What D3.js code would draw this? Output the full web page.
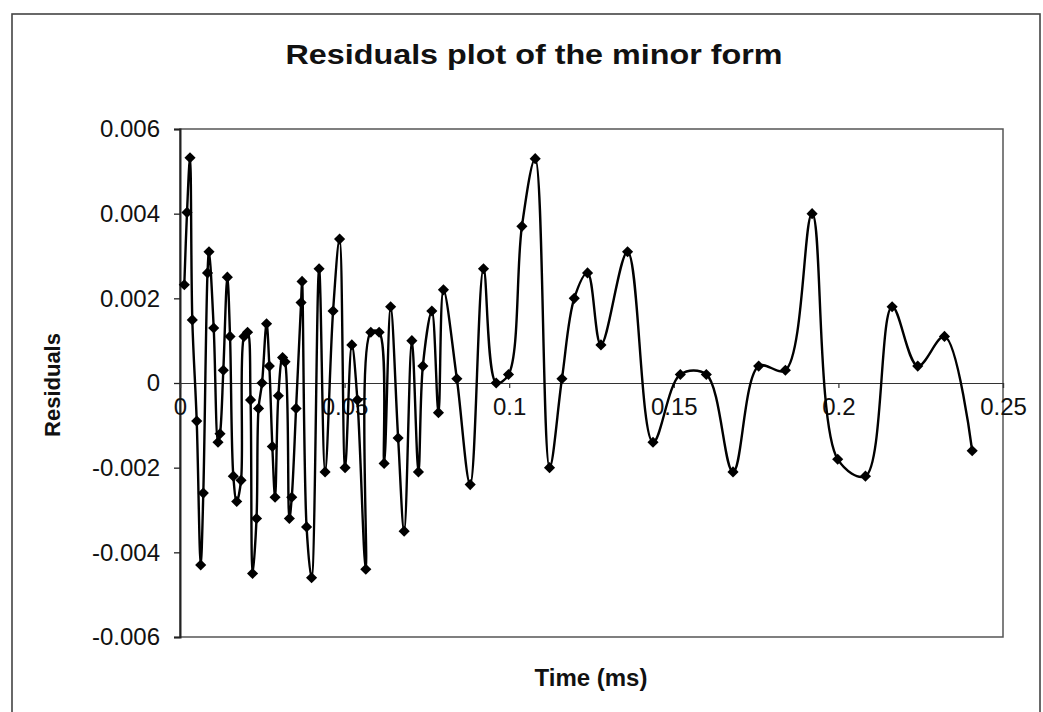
<!DOCTYPE html>
<html>
<head>
<meta charset="utf-8">
<script src="https://cdn.jsdelivr.net/npm/d3@7"></script>
<style>
  html, body { margin: 0; padding: 0; background: #fff; }
  svg { display: block; }
  text { font-family: "Liberation Sans", Arial, sans-serif; fill: #111; }
</style>
</head>
<body>
<svg id="chart" width="1043" height="712"></svg>
<script>
// ---- data ----
const titleText = "Residuals plot of the minor form";
const xLabel = "Time (ms)";
const yLabel = "Residuals";

const times = [
  0.00131, 0.00213, 0.00304, 0.00374, 0.00508, 0.00629, 0.00708, 0.00836, 0.00881, 0.01024,
  0.01155, 0.01216, 0.01316, 0.01438, 0.01520, 0.01620, 0.01723, 0.01854, 0.01945, 0.02052,
  0.02143, 0.02204, 0.02325, 0.02386, 0.02492, 0.02629, 0.02714, 0.02805, 0.02888, 0.02988,
  0.03116, 0.03191, 0.03322, 0.03395, 0.03526, 0.03678, 0.03708, 0.03845, 0.03997, 0.04225,
  0.04407, 0.04650, 0.04848, 0.05015, 0.05219, 0.05389, 0.05644, 0.05796, 0.06049, 0.06201,
  0.06398, 0.06626, 0.06809, 0.07043, 0.07243, 0.07377, 0.07650, 0.07851, 0.08003, 0.08410,
  0.08815, 0.09219, 0.09605, 0.09979, 0.10386, 0.10790, 0.11225, 0.11602, 0.11976, 0.12380,
  0.12787, 0.13596, 0.14368, 0.15198, 0.15988, 0.16799, 0.17578, 0.18389, 0.19201, 0.19979,
  0.20821, 0.21632, 0.22410, 0.23222, 0.24064
];
const residuals = [
  0.00232, 0.00403, 0.00532, 0.00149, -0.00090, -0.00430, -0.00260, 0.00260, 0.00310, 0.00130,
  -0.00140, -0.00120, 0.00030, 0.00250, 0.00110, -0.00220, -0.00280, -0.00230, 0.00110, 0.00120,
  -0.00040, -0.00450, -0.00320, -0.00060, 0.00000, 0.00140, 0.00040, -0.00150, -0.00270, -0.00030,
  0.00060, 0.00050, -0.00320, -0.00270, -0.00060, 0.00190, 0.00240, -0.00340, -0.00460, 0.00270,
  -0.00210, 0.00170, 0.00340, -0.00200, 0.00090, -0.00040, -0.00440, 0.00120, 0.00120, -0.00190,
  0.00180, -0.00130, -0.00350, 0.00100, -0.00210, 0.00040, 0.00170, -0.00070, 0.00220, 0.00010,
  -0.00240, 0.00270, 0.00000, 0.00020, 0.00370, 0.00530, -0.00200, 0.00010, 0.00200, 0.00260,
  0.00090, 0.00310, -0.00140, 0.00020, 0.00020, -0.00210, 0.00040, 0.00030, 0.00400, -0.00180,
  -0.00220, 0.00180, 0.00040, 0.00110, -0.00160
];
const yTicks = [-0.006, -0.004, -0.002, 0, 0.002, 0.004, 0.006];
const yTickLabels = ["-0.006", "-0.004", "-0.002", "0", "0.002", "0.004", "0.006"];
const xTicks = [0, 0.05, 0.1, 0.15, 0.2, 0.25];
const xTickLabels = ["0", "0.05", "0.1", "0.15", "0.2", "0.25"];

// ---- drawing ----
const svg = d3.select("#chart");
const W = 1043, H = 712;
const plot = { left: 180, right: 1003, top: 129, bottom: 637 };

svg.append("rect").attr("width", W).attr("height", H).attr("fill", "#fff");

// outer chart frame
svg.append("rect")
  .attr("x", 12).attr("y", 14).attr("width", 1028).attr("height", 720)
  .attr("fill", "none").attr("stroke", "#444").attr("stroke-width", 1.6);

const x = d3.scaleLinear().domain([0, 0.25]).range([plot.left, plot.right]);
const y = d3.scaleLinear().domain([-0.006, 0.006]).range([plot.bottom, plot.top]);

// plot area border
svg.append("rect")
  .attr("x", plot.left).attr("y", plot.top)
  .attr("width", plot.right - plot.left).attr("height", plot.bottom - plot.top)
  .attr("fill", "none").attr("stroke", "#555").attr("stroke-width", 1.5);

// y axis
const yAxis = d3.axisLeft(y)
  .tickValues(yTicks)
  .tickFormat((d, i) => yTickLabels[i])
  .tickSize(6).tickPadding(14);
const gy = svg.append("g").attr("transform", `translate(${plot.left},0)`).call(yAxis);
gy.select(".domain").attr("stroke", "#222").attr("stroke-width", 2);
gy.selectAll(".tick line").attr("stroke", "#222").attr("stroke-width", 1.3);
gy.selectAll(".tick text").style("font-size", "24px").style("font-family", "'Liberation Sans', Arial, sans-serif").attr("fill", "#111");

// x axis along zero line
const xAxis = d3.axisBottom(x)
  .tickValues(xTicks)
  .tickFormat((d, i) => xTickLabels[i])
  .tickSize(5).tickPadding(10);
const gx = svg.append("g").attr("transform", `translate(0,${y(0)})`).call(xAxis);
gx.select(".domain").attr("stroke", "#333").attr("stroke-width", 1.2);
gx.selectAll(".tick line").attr("stroke", "#333").attr("stroke-width", 1.2);
gx.selectAll(".tick text").style("font-size", "24px").style("font-family", "'Liberation Sans', Arial, sans-serif").attr("fill", "#222");

// data
const data = times.map((t, i) => ({ t, r: residuals[i] }));

const line = d3.line()
  .x(d => x(d.t))
  .y(d => y(d.r))
  .curve(d3.curveCatmullRom.alpha(0.5));

svg.append("path")
  .datum(data)
  .attr("fill", "none")
  .attr("stroke", "#000")
  .attr("stroke-width", 2.4)
  .attr("d", line);

const diamond = d3.symbol().type(d3.symbolSquare).size(62);
svg.append("g").selectAll("path")
  .data(data)
  .join("path")
  .attr("d", diamond)
  .attr("transform", d => `translate(${x(d.t)},${y(d.r)}) rotate(45)`)
  .attr("fill", "#000");

// title
svg.append("text")
  .attr("x", 534).attr("y", 64)
  .attr("text-anchor", "middle")
  .style("font-size", "28px").style("font-weight", "bold")
  .attr("textLength", 497).attr("lengthAdjust", "spacingAndGlyphs")
  .text(titleText);

// x label
svg.append("text")
  .attr("x", 591).attr("y", 686)
  .attr("text-anchor", "middle")
  .style("font-size", "24px").style("font-weight", "bold")
  .text(xLabel);

// y label
svg.append("text")
  .attr("transform", `translate(60,${385}) rotate(-90)`)
  .attr("text-anchor", "middle")
  .style("font-size", "22px").style("font-weight", "bold")
  .text(yLabel);
</script>
</body>
</html>
